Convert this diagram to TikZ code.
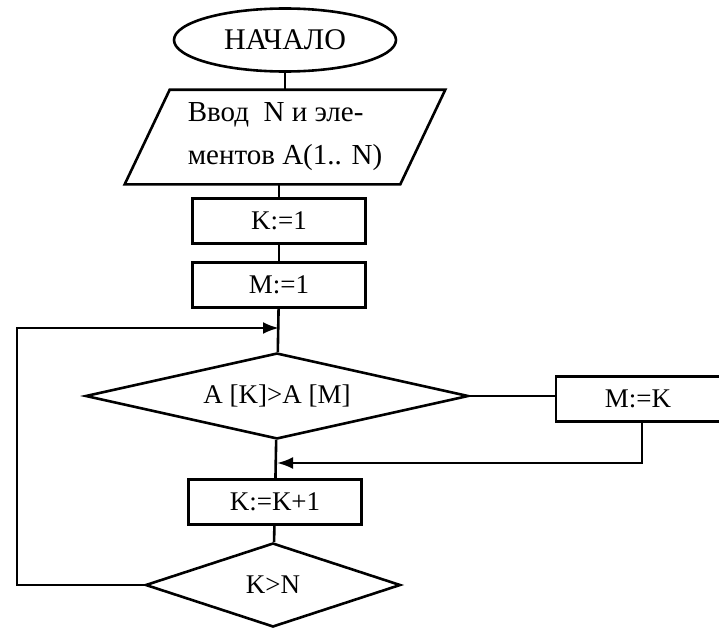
\documentclass[tikz,border=0pt]{standalone}
\usepackage{fontspec}
\setmainfont{Liberation Serif}
\usetikzlibrary{shapes.geometric,arrows.meta}
\begin{document}
\begin{tikzpicture}[x=1pt,y=-1pt,line width=2.6pt,
  txt/.style={font=\fontsize{27}{40}\selectfont},
  box/.style={draw,rectangle,txt,minimum width=173pt,minimum height=45pt,inner sep=0pt},
  dec/.style={draw,diamond,txt,inner sep=0pt},
  arr/.style={-{Latex[length=16pt,width=12pt]}}]
\useasboundingbox (0,0) rectangle (719,629);
\node[draw,ellipse,minimum width=222pt,minimum height=63pt,inner sep=0pt,font=\fontsize{30}{36}\selectfont] (start) at (285,40) {НАЧАЛО};
\node[font=\fontsize{29}{43}\selectfont,minimum width=273pt,minimum height=92pt,inner sep=0pt,align=left] (inp) at (285,137) {Ввод\ \ N и эле-\\ментов A(1.. N)};
\draw ([xshift=22.5pt]inp.north west) -- ([xshift=22.5pt]inp.north east) -- ([xshift=-22.5pt]inp.south east) -- ([xshift=-22.5pt]inp.south west) -- cycle;
\node[box] (k1) at (279,221) {K:=1};
\node[box] (m1) at (279,285) {M:=1};
\coordinate (j1) at (279,328);
\node[dec,aspect=4.45,minimum width=383pt,minimum height=86pt] (d1) at (277,396) {A [K]>A [M]};
\node[box,minimum width=164pt] (mk) at (638,399) {M:=K};
\coordinate (mkb) at (642,422);
\coordinate (j2) at (277,463);
\node[box] (kk) at (275,502) {K:=K+1};
\node[dec,aspect=3.04,minimum width=255pt,minimum height=84pt] (d2) at (273,585) {K>N};
\coordinate (L) at (17,585);
\draw (start) -- (inp.north -| start);
\draw (inp.south -| k1) -- (k1);
\draw (k1) -- (m1);
\draw (m1) -- (d1);
\draw (d1.east) -- (mk.west |- d1.east);
\draw (d1) -- (kk);
\draw (kk) -- (d2);
\draw[arr] (mkb) |- (j2);
\draw[arr] (d2.west) -- (L) |- (j1);
\end{tikzpicture}
\end{document}
